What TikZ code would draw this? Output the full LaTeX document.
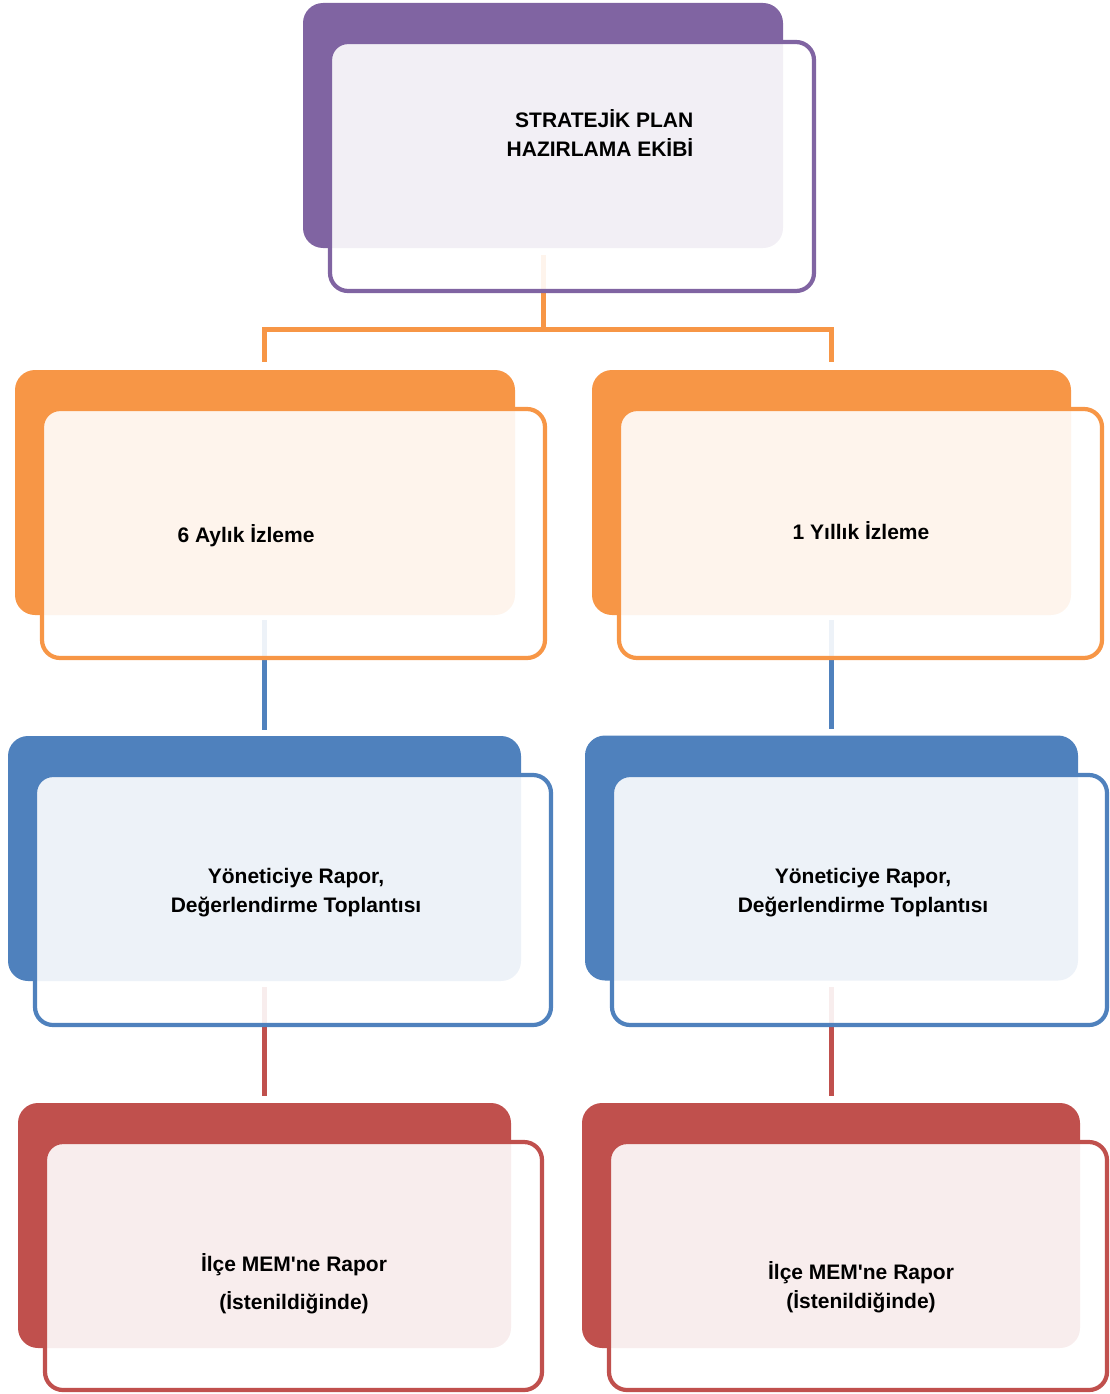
\documentclass[tikz,border=0pt]{standalone}
\usepackage{fontspec}
\setmainfont{Liberation Sans}
\begin{document}
\begin{tikzpicture}[x=1pt,y=-1pt,
  darkbox/.style={fill=#1,rounded corners=20pt,inner sep=0pt,draw=none},
  frontbox/.style={draw=#1,line width=4.2pt,fill=white,fill opacity=0.9,rounded corners=18pt,inner sep=0pt},
  conn/.style={draw=#1,line width=5pt},
  lbl/.style={font=\fontsize{21}{29}\selectfont\bfseries,align=center,inner sep=0pt,text=black}]
\definecolor{cpurple}{HTML}{8064A2}
\definecolor{corange}{HTML}{F79646}
\definecolor{cblue}{HTML}{4F81BD}
\definecolor{cred}{HTML}{C0504D}
\useasboundingbox (0,0) rectangle (1109,1394);
% back boxes
\node[darkbox=cpurple,minimum width=480pt,minimum height=245pt] (topd) at (543,125.5) {};
\node[darkbox=corange,minimum width=500pt,minimum height=245pt] (oLd) at (265,492.5) {};
\node[darkbox=corange,minimum width=479pt,minimum height=245pt] (oRd) at (831.5,492.5) {};
\node[darkbox=cblue,minimum width=513pt,minimum height=245pt] (bLd) at (264.5,858.5) {};
\node[darkbox=cblue,minimum width=493pt,minimum height=245pt] (bRd) at (831.5,858) {};
\node[darkbox=cred,minimum width=493pt,minimum height=245pt] (rLd) at (264.5,1225.5) {};
\node[darkbox=cred,minimum width=498pt,minimum height=245pt] (rRd) at (831,1225.5) {};
% connectors
\coordinate (j) at (543,329);
\coordinate (t0) at (543,255);
\draw[conn=corange] (t0) -- (j);
\draw[conn=corange] ([yshift=8pt]oLd.north -| 264,0) |- (j) -| ([yshift=8pt]oRd.north -| 831,0);
\draw[conn=cblue] (264,620) -- ([yshift=6pt]bLd.north -| 264,0);
\draw[conn=cblue] (831,620) -- ([yshift=6pt]bRd.north -| 831,0);
\draw[conn=cred] (264,987) -- ([yshift=7pt]rLd.north -| 264,0);
\draw[conn=cred] (831,987) -- ([yshift=7pt]rRd.north -| 831,0);
% front boxes
\node[frontbox=cpurple,minimum width=484pt,minimum height=249pt] (topf) at (572,166.5) {};
\node[frontbox=corange,minimum width=503pt,minimum height=249pt] (oLf) at (293.5,533.5) {};
\node[frontbox=corange,minimum width=483pt,minimum height=249pt] (oRf) at (860.5,533.5) {};
\node[frontbox=cblue,minimum width=516pt,minimum height=250pt] (bLf) at (293,900) {};
\node[frontbox=cblue,minimum width=495pt,minimum height=250pt] (bRf) at (859.5,900) {};
\node[frontbox=cred,minimum width=497pt,minimum height=248pt] (rLf) at (293.5,1266) {};
\node[frontbox=cred,minimum width=498pt,minimum height=248pt] (rRf) at (858,1266) {};
% labels
\node[lbl,align=right] (topt) at (600,133) {STRATEJİK PLAN\\HAZIRLAMA EKİBİ};
\node[lbl] (oLt) at (246,536) {6 Aylık İzleme};
\node[lbl] (oRt) at (861,531) {1 Yıllık İzleme};
\node[lbl] (bLt) at (296,893) {Yöneticiye Rapor,\\Değerlendirme Toplantısı};
\node[lbl] (bRt) at (863,893) {Yöneticiye Rapor,\\Değerlendirme Toplantısı};
\node[lbl] (rLt) at (294,1284) {İlçe MEM\textquotesingle ne Rapor\\[9pt](İstenildiğinde)};
\node[lbl] (rRt) at (861,1287) {İlçe MEM\textquotesingle ne Rapor\\(İstenildiğinde)};
\end{tikzpicture}
\end{document}
